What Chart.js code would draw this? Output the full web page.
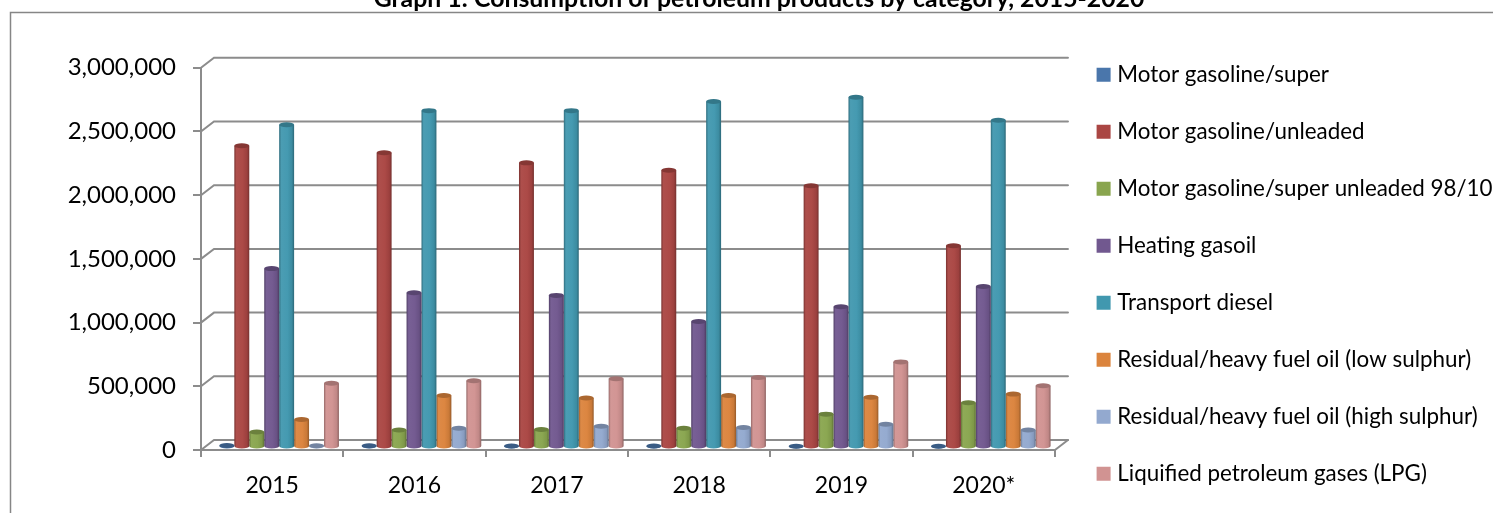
<!DOCTYPE html>
<html>
<head>
<meta charset="utf-8">
<title>Consumption of petroleum products</title>
<script src="https://cdn.jsdelivr.net/npm/chart.js@4"></script>
<style>
  html, body { margin: 0; padding: 0; background: #fff; overflow: hidden; width: 1493px; height: 513px; }
  #wrap { position: absolute; left: 0; top: -20px; }
  canvas { display: block; }
</style>
</head>
<body>
<div id="wrap"><canvas id="chart" width="1518" height="533"></canvas></div>
<script>
const titleText = 'Graph 1: Consumption of petroleum products by category, 2015-2020';
const years = ['2015', '2016', '2017', '2018', '2019', '2020*'];
const seriesNames = [
  'Motor gasoline/super',
  'Motor gasoline/unleaded',
  'Motor gasoline/super unleaded 98/100',
  'Heating gasoil',
  'Transport diesel',
  'Residual/heavy fuel oil (low sulphur)',
  'Residual/heavy fuel oil (high sulphur)',
  'Liquified petroleum gases (LPG)'
];
const seriesColors = ['#4A76AB', '#AA4643', '#89A54E', '#71588F', '#4198AF', '#DB843D', '#93A9CF', '#D19392'];

const gasolineSuper = [12000, 10000, 8000, 8000, 6000, 6000];
const gasolineUnleaded = [2365000, 2310000, 2230000, 2172000, 2050000, 1580000];
const gasolineSuperUnleaded = [118000, 133000, 138000, 148000, 258000, 348000];
const heatingGasoil = [1400000, 1210000, 1190000, 985000, 1100000, 1260000];
const transportDiesel = [2530000, 2640000, 2640000, 2712000, 2745000, 2565000];
const fuelOilLow = [215000, 405000, 385000, 405000, 390000, 415000];
const fuelOilHigh = [10000, 148000, 163000, 153000, 178000, 133000];
const lpg = [500000, 520000, 535000, 545000, 668000, 480000];
const seriesValues = [gasolineSuper, gasolineUnleaded, gasolineSuperUnleaded, heatingGasoil, transportDiesel, fuelOilLow, fuelOilHigh, lpg];

const axisColor = '#8c8c8c';
const textFont = 'Lato';
// depth of the fake 3d box and where the bars stand inside it
const backDx = 13, backDy = -10;
const barDx = 7, barDy = -3;

function shade(hex, f) {
  const n = parseInt(hex.slice(1), 16);
  const ch = [n >> 16, (n >> 8) & 255, n & 255].map(function (c) {
    return Math.min(255, Math.round(f > 1 ? c + (255 - c) * (f - 1) : c * f));
  });
  return 'rgb(' + ch.join(',') + ')';
}

const box3d = {
  id: 'box3d',
  afterLayout(chart) {
    // legend sits in its own spot, the text runs off the page like the original
    chart.legend.left = 1066.5;
    chart.legend.top = 49;
    chart.legend.bottom = 800;
  },
  beforeDatasetsDraw(chart) {
    const { ctx, chartArea: a, scales } = chart;
    ctx.save();
    // outer frame of the pasted chart
    ctx.strokeStyle = '#868686';
    ctx.lineWidth = 1.5;
    ctx.beginPath();
    ctx.moveTo(10.5, 560);
    ctx.lineTo(10.5, 32.5);
    ctx.lineTo(1520, 32.5);
    ctx.stroke();
    // back wall lines, floor and the slanted bits
    ctx.strokeStyle = axisColor;
    ctx.lineWidth = 2;
    ctx.lineCap = 'round';
    scales.y.ticks.forEach(function (t) {
      const y = scales.y.getPixelForValue(t.value);
      ctx.beginPath();
      ctx.moveTo(a.left, y);
      ctx.lineTo(a.left + backDx, y + backDy);
      ctx.lineTo(a.right + backDx, y + backDy);
      ctx.stroke();
    });
    ctx.beginPath();
    ctx.moveTo(a.right, a.bottom);
    ctx.lineTo(a.right + backDx, a.bottom + backDy);
    ctx.stroke();
    ctx.restore();
  },
  afterDatasetDraw(chart, args) {
    const { ctx } = chart;
    const color = seriesColors[args.index];
    ctx.save();
    ctx.translate(barDx, barDy);
    args.meta.data.forEach(function (bar) {
      const p = bar.getProps(['x', 'y', 'base', 'width'], true);
      const l = p.x - p.width / 2, r = p.x + p.width / 2;
      const ry = 2.5;
      const g = ctx.createLinearGradient(l, 0, r, 0);
      g.addColorStop(0, shade(color, 0.72));
      g.addColorStop(0.14, shade(color, 1.05));
      g.addColorStop(0.55, shade(color, 1.02));
      g.addColorStop(0.85, shade(color, 0.92));
      g.addColorStop(1, shade(color, 0.68));
      ctx.fillStyle = g;
      ctx.beginPath();
      ctx.moveTo(l, p.y);
      ctx.lineTo(l, p.base);
      ctx.ellipse(p.x, p.base, p.width / 2, ry, 0, Math.PI, 0, true);
      ctx.lineTo(r, p.y);
      ctx.closePath();
      ctx.fill();
      ctx.fillStyle = shade(color, 0.78);
      ctx.beginPath();
      ctx.ellipse(p.x, p.y, p.width / 2, ry, 0, 0, Math.PI * 2);
      ctx.fill();
    });
    ctx.restore();
  }
};

new Chart(document.getElementById('chart'), {
  type: 'bar',
  plugins: [box3d],
  data: {
    labels: years,
    datasets: seriesNames.map(function (name, i) {
      return {
        label: name,
        data: seriesValues[i],
        backgroundColor: 'rgba(0,0,0,0)',
        categoryPercentage: 0.84,
        barPercentage: 1
      };
    })
  },
  options: {
    responsive: false,
    animation: false,
    devicePixelRatio: 1,
    layout: { padding: { left: 14, right: 14, top: 0, bottom: 0 } },
    plugins: {
      tooltip: { enabled: false },
      title: {
        display: true,
        text: titleText,
        color: '#000',
        font: { family: textFont, size: 24.8, weight: 'bold' },
        padding: { top: 4, bottom: 54 }
      },
      legend: {
        position: 'right',
        align: 'start',
        maxWidth: 463,
        maxHeight: 700,
        labels: {
          color: '#000',
          font: { family: textFont, size: 22.4 },
          boxWidth: 5,
          boxHeight: 5,
          padding: 34.6,
          generateLabels(chart) {
            return chart.data.datasets.map(function (d, i) {
              return { text: d.label, fillStyle: seriesColors[i], strokeStyle: seriesColors[i], lineWidth: 9, datasetIndex: i };
            });
          }
        }
      }
    },
    scales: {
      x: {
        afterFit(scale) { scale.height = 63; },
        grid: { drawOnChartArea: false, drawTicks: true, tickLength: 7, color: axisColor, lineWidth: 2 },
        border: { color: axisColor, width: 2 },
        ticks: { color: '#000', font: { family: textFont, size: 23 }, padding: 15, maxRotation: 0 }
      },
      y: {
        min: 0,
        max: 3000000,
        afterFit(scale) { scale.width = 187; },
        grid: { drawOnChartArea: false, drawTicks: true, tickLength: 8, color: axisColor, lineWidth: 2 },
        border: { color: axisColor, width: 2 },
        ticks: {
          stepSize: 500000,
          color: '#000',
          font: { family: textFont, size: 24 },
          padding: 17,
          callback(v) { return v.toLocaleString('en-US'); }
        }
      }
    }
  }
});
</script>
</body>
</html>
